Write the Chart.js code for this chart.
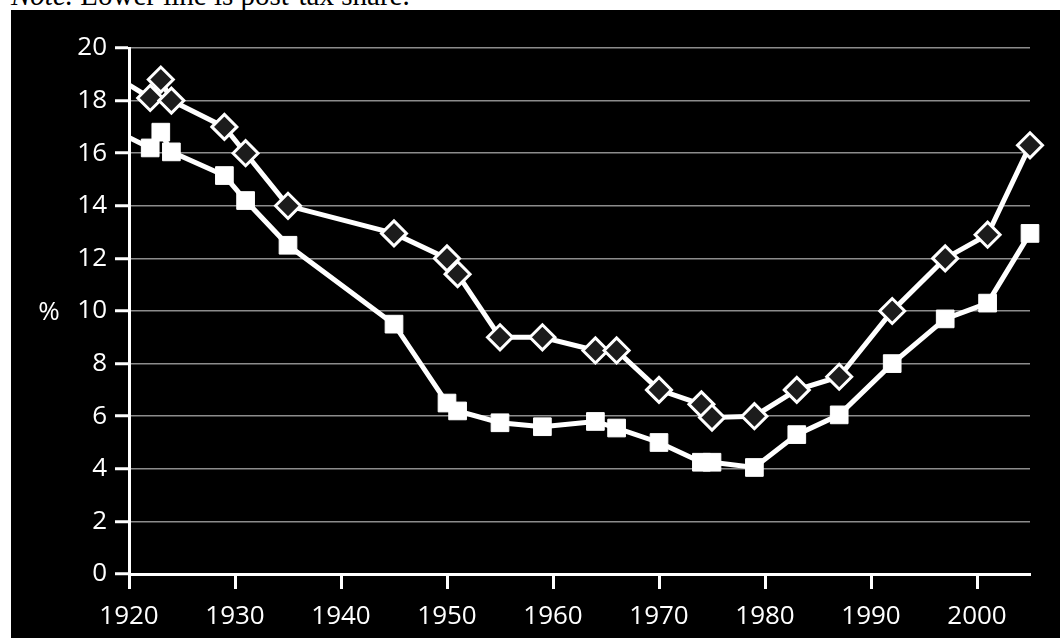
<!DOCTYPE html>
<html>
<head>
<meta charset="utf-8">
<script src="https://cdn.jsdelivr.net/npm/chart.js@4"></script>
<style>
  html, body { margin: 0; padding: 0; background: #fff; width: 1060px; height: 638px; overflow: hidden; }
  #note { position: absolute; left: 11px; top: -19px; font: 29px/29px "Liberation Serif", "Times New Roman", serif; color: #000; white-space: nowrap; }
  #box { position: absolute; left: 11px; top: 10px; width: 1049px; height: 628px; background: #000; }
</style>
</head>
<body>
<div id="note"><i>Note.</i> Lower line is post-tax share.</div>
<div id="box"><canvas id="chart" width="1049" height="628"></canvas></div>
<script>
// years of observation (1918 lies left of the axis and is clipped away)
const years = [1918, 1922, 1923, 1924, 1929, 1931, 1935, 1945, 1950, 1951, 1955, 1959, 1964, 1966, 1970, 1974, 1975, 1979, 1983, 1987, 1992, 1997, 2001, 2005];
// pre-tax share (upper line, diamonds)
const preTax = [19.1, 18.1, 18.8, 18.0, 17.0, 16.0, 14.0, 12.95, 12.0, 11.4, 9.0, 9.0, 8.5, 8.5, 7.0, 6.45, 5.95, 6.0, 7.0, 7.5, 10.0, 12.0, 12.9, 16.3];
// post-tax share (lower line, squares)
const postTax = [17.0, 16.2, 16.8, 16.05, 15.15, 14.2, 12.5, 9.5, 6.5, 6.2, 5.75, 5.6, 5.8, 5.55, 5.0, 4.25, 4.25, 4.05, 5.3, 6.05, 8.0, 9.7, 10.3, 12.95];
const yTicks = [0, 2, 4, 6, 8, 10, 12, 14, 16, 18, 20];
const xTicks = [1920, 1930, 1940, 1950, 1960, 1970, 1980, 1990, 2000];

const tickFont = { family: '"Open Sans", "DejaVu Sans", sans-serif', size: 26 };

const toPoints = vals => years.map((y, i) => ({ x: y, y: vals[i] }));

const percentLabel = {
  id: 'percentLabel',
  afterDraw(chart) {
    const ctx = chart.ctx;
    const area = chart.chartArea;
    ctx.save();
    ctx.fillStyle = '#fff';
    ctx.font = '26px "Open Sans", "DejaVu Sans", sans-serif';
    ctx.textAlign = 'center';
    ctx.textBaseline = 'middle';
    ctx.fillText('%', 38, (area.top + area.bottom) / 2 + 2);
    ctx.restore();
  }
};

new Chart(document.getElementById('chart').getContext('2d'), {
  type: 'line',
  data: {
    datasets: [
      {
        data: toPoints(preTax),
        borderColor: '#fff',
        borderWidth: 5,
        pointStyle: 'rectRot',
        pointRadius: 12.5,
        pointBackgroundColor: '#1c1c1c',
        pointBorderColor: '#fff',
        pointBorderWidth: 3,
        clip: { left: 0, top: 20, right: 20, bottom: 0 }
      },
      {
        data: toPoints(postTax),
        borderColor: '#fff',
        borderWidth: 5,
        pointStyle: 'rect',
        pointRadius: 12.5,
        pointBackgroundColor: '#fff',
        pointBorderColor: '#fff',
        pointBorderWidth: 1,
        clip: { left: 0, top: 20, right: 20, bottom: 0 }
      }
    ]
  },
  options: {
    responsive: false,
    animation: false,
    layout: { padding: { top: 38, right: 30, left: 0, bottom: 0 } },
    plugins: { legend: { display: false }, tooltip: { enabled: false } },
    scales: {
      x: {
        type: 'linear',
        min: 1920,
        max: 2005,
        afterFit: scale => { scale.height = 64; },
        afterBuildTicks: scale => { scale.ticks = xTicks.map(v => ({ value: v })); },
        ticks: {
          color: '#fff',
          font: tickFont,
          padding: 12,
          includeBounds: false,
          maxRotation: 0,
          autoSkip: false,
          callback: v => String(v)
        },
        grid: { drawOnChartArea: false, drawTicks: true, tickLength: 15, tickColor: '#fff', tickWidth: 3 },
        border: { color: '#fff', width: 3 }
      },
      y: {
        min: 0,
        max: 20,
        afterFit: scale => { scale.width = 118; },
        afterBuildTicks: scale => { scale.ticks = yTicks.map(v => ({ value: v })); },
        ticks: { color: '#fff', font: tickFont, padding: 8 },
        grid: { color: '#8c8c8c', lineWidth: 1.5, tickLength: 14, tickColor: '#fff', tickWidth: 3 },
        border: { color: '#fff', width: 3 }
      }
    }
  },
  plugins: [percentLabel]
});
</script>
</body>
</html>
